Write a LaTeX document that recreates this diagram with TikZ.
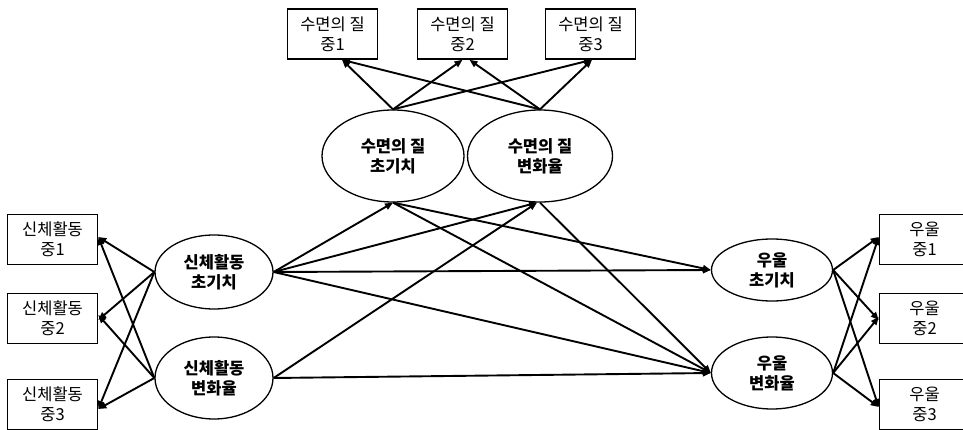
\documentclass[tikz,border=0pt]{standalone}
\usepackage{fontspec}
\setmainfont{Noto Sans CJK KR}
\usetikzlibrary{arrows.meta,shapes.geometric}
\begin{document}
\begin{tikzpicture}[x=1pt,y=-1pt,
  every node/.style={font=\fontsize{16.5}{20}\selectfont, align=center, inner sep=0pt},
  obs/.style={draw, line width=1.6pt, minimum width=90pt, minimum height=50pt},
  lat/.style={draw, ellipse, line width=1.3pt, font=\fontsize{16.5}{20}\selectfont\bfseries},
  path/.style={line width=1.9pt, -{Triangle[length=8pt,width=6.5pt]}}]
\useasboundingbox (0,0) rectangle (963,430);
\clip (0,0) rectangle (963,430);
% observed: sleep
\node[obs] (s1) at (332.5,34) {수면의 질\\중1};
\node[obs] (s2) at (462.5,34) {수면의 질\\중2};
\node[obs] (s3) at (590.5,34) {수면의 질\\중3};
% observed: physical activity
\node[obs] (p1) at (52.5,239.5) {신체활동\\중1};
\node[obs] (p2) at (52.5,318.5) {신체활동\\중2};
\node[obs] (p3) at (52.5,404.5) {신체활동\\중3};
% observed: depression
\node[obs] (d1) at (924.5,239.5) {우울\\중1};
\node[obs] (d2) at (924.5,318.5) {우울\\중2};
\node[obs] (d3) at (924.5,404.5) {우울\\중3};
% latent
\node[lat, minimum width=142pt, minimum height=92pt] (sI) at (393,156) {수면의 질\\초기치};
\node[lat, minimum width=145pt, minimum height=92pt] (sC) at (540,156) {수면의 질\\변화율};
\node[lat, minimum width=118pt, minimum height=74pt] (pI) at (214,272) {신체활동\\초기치};
\node[lat, minimum width=118pt, minimum height=82pt] (pC) at (214,378) {신체활동\\변화율};
\node[lat, minimum width=121pt, minimum height=62pt] (dI) at (772,270) {우울\\초기치};
\node[lat, minimum width=121pt, minimum height=72pt] (dC) at (772,373) {우울\\변화율};
% sleep loadings
\draw[path] (sI.north) -- ([xshift=9.5pt]s1.south);
\draw[path] (sI.north) -- (s2.south);
\draw[path] (sI.north) -- ([xshift=1.5pt]s3.south);
\draw[path] (sC.north) -- ([xshift=9.5pt]s1.south);
\draw[path] (sC.north) -- ([xshift=7pt]s2.south);
\draw[path] (sC.north) -- ([xshift=1.5pt]s3.south);
% PA loadings
\draw[path] (pI.west) -- ([yshift=2.5pt]p1.east);
\draw[path] (pI.west) -- ([yshift=-1.5pt]p2.east);
\draw[path] (pI.west) -- ([yshift=-4.5pt]p3.east);
\draw[path] (pC.west) -- ([yshift=2.5pt]p1.east);
\draw[path] (pC.west) -- ([yshift=3.5pt]p2.east);
\draw[path] (pC.west) -- ([yshift=-4.5pt]p3.east);
% depression loadings
\draw[path] (dI.east) -- ([yshift=2.5pt]d1.west);
\draw[path] (dI.east) -- ([yshift=-1.5pt]d2.west);
\draw[path] (dI.east) -- ([yshift=-2.5pt]d3.west);
\draw[path] (dC.east) -- ([yshift=2.5pt]d1.west);
\draw[path] (dC.east) -- ([yshift=1.5pt]d2.west);
\draw[path] (dC.east) -- ([yshift=-2.5pt]d3.west);
% structural paths
\draw[path] (pI.east) -- (sI.south);
\draw[path] (pI.east) -- ([xshift=-3pt]sC.south);
\draw[path] (pI.east) -- (dI.west);
\draw[path] (pI.east) -- (dC.west);
\draw[path] (pC.east) -- ([xshift=-3pt]sC.south);
\draw[path] (pC.east) -- (dC.west);
\draw[path] (sI.south) -- (dI.west);
\draw[path] (sI.south) -- (dC.west);
\draw[path] (sC.south) -- (dC.west);
\end{tikzpicture}
\end{document}
